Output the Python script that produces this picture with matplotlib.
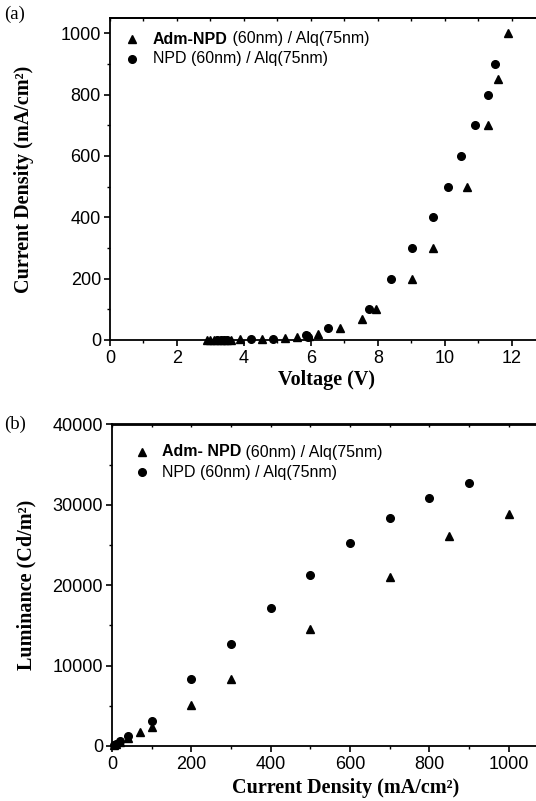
import matplotlib
matplotlib.use("Agg")
import matplotlib.pyplot as plt
from matplotlib.ticker import MultipleLocator

# ---------------- data ----------------
# (a) Current density vs voltage
v_adm = [2.90, 3.00, 3.10, 3.20, 3.30, 3.40, 3.50, 3.60, 3.88, 4.53, 5.24, 5.58,
         5.95, 6.20, 6.88, 7.53, 7.95, 9.01, 9.64, 10.67, 11.28, 11.59, 11.89]
j_adm = [0.1, 0.2, 0.3, 0.5, 0.7, 1, 1.2, 1.5, 2, 3, 5, 10,
         12, 20, 40, 70, 100, 200, 300, 500, 700, 850, 1000]
v_npd = [3.20, 3.30, 3.40, 3.50, 4.20, 4.87, 5.84, 5.92, 6.52, 7.72, 8.40, 9.01,
         9.63, 10.08, 10.49, 10.90, 11.28, 11.50]
j_npd = [0.3, 0.5, 0.8, 1, 2, 4, 15, 10, 40, 100, 200, 300,
         400, 500, 600, 700, 800, 900]

# (b) Luminance vs current density
jb_adm = [5, 10, 20, 40, 70, 100, 200, 300, 500, 700, 850, 1000]
lb_adm = [100, 250, 500, 1000, 1700, 2400, 5100, 8300, 14600, 21000, 26100, 28900]
jb_npd = [5, 10, 20, 40, 100, 200, 300, 400, 500, 600, 700, 800, 900]
lb_npd = [150, 300, 600, 1200, 3100, 8300, 12700, 17200, 21300, 25300, 28400, 30900, 32700]

legend_a = [("Adm-NPD", " (60nm) / Alq(75nm)"), ("", "NPD (60nm) / Alq(75nm)")]
legend_b = [("Adm- NPD", " (60nm) / Alq(75nm)"), ("", "NPD (60nm) / Alq(75nm)")]

W, H = 536, 801
fig = plt.figure(figsize=(W / 100, H / 100), dpi=100)

SANS = "Liberation Sans"
SERIF = "Liberation Serif"
MS = 5.5
TICK_FS = 13
TITLE_FS = 14.5
LEG_FS = 11.5


def make_ax(left, right, top, bottom):
    return fig.add_axes([left / W, 1 - bottom / H, (right - left) / W, (bottom - top) / H])


def style(ax, xmaj, xmin, ymaj, ymin):
    for s in ["left", "bottom", "top"]:
        ax.spines[s].set_linewidth(1.3)
    ax.spines["right"].set_visible(False)
    ax.xaxis.set_major_locator(MultipleLocator(xmaj))
    ax.xaxis.set_minor_locator(MultipleLocator(xmin))
    ax.yaxis.set_major_locator(MultipleLocator(ymaj))
    ax.yaxis.set_minor_locator(MultipleLocator(ymin))
    ax.tick_params(axis="both", which="major", direction="out", length=4.5, width=1.2,
                   labelsize=TICK_FS, top=False, right=False)
    ax.tick_params(axis="both", which="minor", direction="out", length=2.5, width=1.0,
                   top=False, right=False)
    ax.tick_params(axis="x", which="major", pad=2.5)
    ax.tick_params(axis="y", which="major", pad=2)
    for lab in ax.get_xticklabels() + ax.get_yticklabels():
        lab.set_fontfamily(SANS)
    # inward ticks on the top spine
    sec = ax.secondary_xaxis("top")
    sec.xaxis.set_major_locator(MultipleLocator(xmaj))
    sec.xaxis.set_minor_locator(MultipleLocator(xmin))
    sec.tick_params(which="both", direction="in", length=2.5, width=1.0, labeltop=False)
    sec.spines["top"].set_linewidth(1.3)


def legend(ax, entries, px_marker_x, px_text_x, px_ys):
    pos = ax.get_position()
    def to_ax(px, py):
        fx, fy = px / W, 1 - py / H
        return (fx - pos.x0) / pos.width, (fy - pos.y0) / pos.height
    markers = ["^", "o"]
    for (bold, rest), mk, py in zip(entries, markers, px_ys):
        mx, my = to_ax(px_marker_x, py)
        ax.plot([mx], [my], marker=mk, color="black", ms=MS, ls="none",
                transform=ax.transAxes, clip_on=False)
        tx, ty = to_ax(px_text_x, py)
        if bold:
            t = ax.text(tx, ty, bold, transform=ax.transAxes, fontfamily=SANS,
                        fontweight="bold", fontsize=LEG_FS, va="center", ha="left")
            ax.annotate(rest, xy=(1, 0), xycoords=t, fontfamily=SANS, fontsize=LEG_FS,
                        va="bottom", ha="left")
        else:
            ax.text(tx, ty, rest, transform=ax.transAxes, fontfamily=SANS,
                    fontsize=LEG_FS, va="center", ha="left")


# ---------------- panel (a) ----------------
axa = make_ax(110, 537, 18, 340)
axa.plot(v_adm, j_adm, ls="none", marker="^", color="black", ms=MS, clip_on=False)
axa.plot(v_npd, j_npd, ls="none", marker="o", color="black", ms=MS, clip_on=False)
axa.set_xlim(0, 12.75)
axa.set_ylim(0, 1050)
style(axa, 2, 1, 200, 100)
axa.set_xlabel("Voltage (V)", fontfamily=SERIF, fontweight="bold", fontsize=TITLE_FS)
axa.set_ylabel("Current Density (mA/cm²)", fontfamily=SERIF, fontweight="bold", fontsize=TITLE_FS)
axa.xaxis.set_label_coords((327 - 110) / 427, -(370 - 340) / 322)
axa.yaxis.set_label_coords((34 - 110) / 427, 0.5)
legend(axa, legend_a, 132, 153, [39, 59])
fig.text(4 / W, 1 - 14 / H, "(a)", fontfamily=SERIF, fontsize=13.5, va="center", ha="left")

# ---------------- panel (b) ----------------
TOP_B, BOT_B = 424.5, 746
axb = make_ax(112, 537, TOP_B, BOT_B)
axb.plot(jb_adm, lb_adm, ls="none", marker="^", color="black", ms=MS, clip_on=False)
axb.plot(jb_npd, lb_npd, ls="none", marker="o", color="black", ms=MS, clip_on=False)
axb.set_xlim(0, 1071)
axb.set_ylim(0, 40000)
style(axb, 200, 100, 10000, 5000)
axb.set_xlabel("Current Density (mA/cm²)", fontfamily=SERIF, fontweight="bold", fontsize=TITLE_FS)
axb.set_ylabel("Luminance (Cd/m²)", fontfamily=SERIF, fontweight="bold", fontsize=TITLE_FS)
axb.xaxis.set_label_coords((346 - 112) / 425, -(778 - BOT_B) / (BOT_B - TOP_B))
axb.yaxis.set_label_coords((36 - 112) / 425, 0.5)
legend(axb, legend_b, 142, 162, [452, 472])
fig.text(4 / W, 1 - TOP_B / H, "(b)", fontfamily=SERIF, fontsize=13.5, va="center", ha="left")

fig.savefig("out.png", dpi=100)
